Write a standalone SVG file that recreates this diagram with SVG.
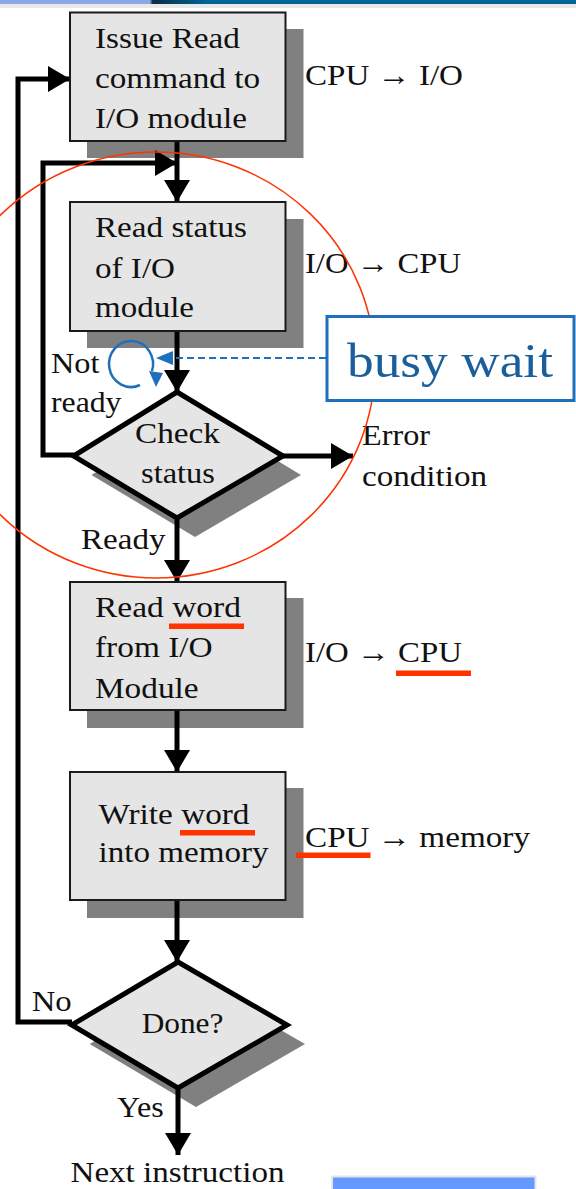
<svg xmlns="http://www.w3.org/2000/svg" width="576" height="1189" viewBox="0 0 576 1189">
  <defs>
    <linearGradient id="topband" x1="0" y1="0" x2="1" y2="0">
      <stop offset="0" stop-color="#8aa8e6"/>
      <stop offset="0.26" stop-color="#8aa8e6"/>
      <stop offset="0.265" stop-color="#0b2c44"/>
      <stop offset="0.36" stop-color="#006699"/>
      <stop offset="1" stop-color="#006699"/>
    </linearGradient>
    <marker id="ah" markerUnits="userSpaceOnUse" markerWidth="24" markerHeight="26" refX="22" refY="13" orient="auto">
      <path d="M0,0 L22,13 L0,26 z" fill="#000"/>
    </marker>
    <style>
      .box { fill: #e5e5e5; stroke: #1a1a1a; stroke-width: 2; }
      .dia { fill: #e5e5e5; stroke: #000; stroke-width: 5; stroke-linejoin: miter; }
      .shadow { fill: #808080; }
      .t { font-family: "Liberation Serif", "Times New Roman", serif; font-size: 30px; fill: #111; }
      .conn { fill: none; stroke: #000; stroke-width: 5; }
      .ul { fill: #ff3300; }
      .blue { fill: none; stroke: #1e6fbc; }
    </style>
  </defs>

  <!-- top band -->
  <rect x="0" y="0" width="576" height="4" fill="url(#topband)"/>
  <rect x="0" y="4" width="576" height="4" fill="#e8e8e8"/>

  <!-- shadows -->
  <g id="shadows">
    <rect class="shadow" x="87" y="29" width="216.5" height="129"/>
    <rect class="shadow" x="87" y="219" width="216.5" height="129"/>
    <polygon class="shadow" points="195,411 301,475 195,537 91.5,475"/>
    <rect class="shadow" x="87" y="598" width="216.5" height="130"/>
    <rect class="shadow" x="87" y="788" width="216.5" height="130"/>
    <polygon class="shadow" points="196,981 305,1044 196,1107 89.7,1044"/>
  </g>

  <!-- connectors -->
  <g id="connectors">
    <line class="conn" x1="177" y1="141" x2="177" y2="202" marker-end="url(#ah)"/>
    <line class="conn" x1="177" y1="331" x2="177" y2="392" marker-end="url(#ah)"/>
    <polyline class="conn" points="74,455 43,455 43,163 177,163" marker-end="url(#ah)"/>
    <line class="conn" x1="283" y1="456" x2="353" y2="456" marker-end="url(#ah)"/>
    <line class="conn" x1="177" y1="518" x2="177" y2="582" marker-end="url(#ah)"/>
    <line class="conn" x1="177" y1="710" x2="177" y2="772" marker-end="url(#ah)"/>
    <line class="conn" x1="177" y1="900" x2="177" y2="962" marker-end="url(#ah)"/>
    <polyline class="conn" points="72,1022 18,1022 18,79 70,79" marker-end="url(#ah)"/>
    <line class="conn" x1="178" y1="1088" x2="178" y2="1155" marker-end="url(#ah)"/>
  </g>

  <!-- nodes -->
  <g id="n-issue">
    <rect class="box" x="70" y="12.5" width="215.5" height="128.5"/>
    <text class="t" x="95" y="48" textLength="145" lengthAdjust="spacingAndGlyphs">Issue Read</text>
    <text class="t" x="95" y="88" textLength="165" lengthAdjust="spacingAndGlyphs">command to</text>
    <text class="t" x="95" y="128" textLength="152" lengthAdjust="spacingAndGlyphs">I/O module</text>
  </g>
  <g id="l-issue">
    <text class="t" x="305" y="85" textLength="158" lengthAdjust="spacingAndGlyphs">CPU → I/O</text>
  </g>

  <g id="n-readstatus">
    <rect class="box" x="70" y="202" width="215.5" height="129"/>
    <text class="t" x="95" y="237" textLength="152" lengthAdjust="spacingAndGlyphs">Read status</text>
    <text class="t" x="95" y="277.5" textLength="80" lengthAdjust="spacingAndGlyphs">of I/O</text>
    <text class="t" x="95" y="317" textLength="99" lengthAdjust="spacingAndGlyphs">module</text>
  </g>
  <g id="l-readstatus">
    <text class="t" x="305" y="273" textLength="156" lengthAdjust="spacingAndGlyphs">I/O → CPU</text>
  </g>

  <g id="n-check">
    <polygon class="dia" points="177,392 283,456 177,518 73.5,456"/>
    <text class="t" x="135" y="443" textLength="85" lengthAdjust="spacingAndGlyphs">Check</text>
    <text class="t" x="141" y="483" textLength="74" lengthAdjust="spacingAndGlyphs">status</text>
  </g>
  <g id="l-check">
    <text class="t" x="51" y="373" textLength="48.5" lengthAdjust="spacingAndGlyphs">Not</text>
    <text class="t" x="51" y="412" textLength="70.5" lengthAdjust="spacingAndGlyphs">ready</text>
    <text class="t" x="362" y="445" textLength="68" lengthAdjust="spacingAndGlyphs">Error</text>
    <text class="t" x="362" y="486" textLength="125" lengthAdjust="spacingAndGlyphs">condition</text>
    <text class="t" x="81" y="549" textLength="84.5" lengthAdjust="spacingAndGlyphs">Ready</text>
  </g>

  <g id="n-readword">
    <rect class="box" x="70" y="582" width="215.5" height="128"/>
    <text class="t" x="95" y="617" textLength="146" lengthAdjust="spacingAndGlyphs">Read word</text>
    <text class="t" x="95" y="657" textLength="117.6" lengthAdjust="spacingAndGlyphs">from I/O</text>
    <text class="t" x="95" y="697.5" textLength="103.6" lengthAdjust="spacingAndGlyphs">Module</text>
    <rect class="ul" x="169" y="623.5" width="75" height="5.5"/>
  </g>
  <g id="l-readword">
    <text class="t" x="305" y="662" textLength="157" lengthAdjust="spacingAndGlyphs">I/O → CPU</text>
    <rect class="ul" x="396" y="670.5" width="75" height="5.5"/>
  </g>

  <g id="n-writeword">
    <rect class="box" x="70" y="772" width="215.5" height="128"/>
    <text class="t" x="98.5" y="823.5" textLength="151" lengthAdjust="spacingAndGlyphs">Write word</text>
    <text class="t" x="98.5" y="862" textLength="170" lengthAdjust="spacingAndGlyphs">into memory</text>
    <rect class="ul" x="180" y="830" width="75" height="5.5"/>
  </g>
  <g id="l-writeword">
    <text class="t" x="305" y="847" textLength="225" lengthAdjust="spacingAndGlyphs">CPU → memory</text>
    <rect class="ul" x="296" y="852.5" width="74.5" height="5.5"/>
  </g>

  <g id="n-done">
    <polygon class="dia" points="178,962 287,1025 178,1088 71.7,1025"/>
    <text class="t" x="141.7" y="1033" textLength="81.7" lengthAdjust="spacingAndGlyphs">Done?</text>
  </g>
  <g id="l-done">
    <text class="t" x="31.7" y="1011" textLength="40" lengthAdjust="spacingAndGlyphs">No</text>
    <text class="t" x="117" y="1117" textLength="46.7" lengthAdjust="spacingAndGlyphs">Yes</text>
  </g>

  <g id="n-next">
    <text class="t" x="70.5" y="1182" textLength="214" lengthAdjust="spacingAndGlyphs">Next instruction</text>
  </g>

  <!-- annotation: red circle -->
  <g id="highlight">
    <ellipse cx="156" cy="365" rx="219" ry="213" fill="none" stroke="#ff3300" stroke-width="1.5"/>
  </g>

  <!-- annotation: busy wait -->
  <g id="busywait">
    <rect x="327" y="316.5" width="247" height="84" fill="#fff" stroke="#1e6fbc" stroke-width="3"/>
    <text x="347" y="377" font-family="Liberation Serif, Times New Roman, serif" font-size="48" fill="#1a5f9c" textLength="206" lengthAdjust="spacingAndGlyphs">busy wait</text>
    <line class="blue" x1="326" y1="358" x2="172" y2="358" stroke-width="2" stroke-dasharray="7,4"/>
    <polygon points="156,358 173,351 173,365" fill="#1e6fbc"/>
    <path class="blue" d="M140,385 A22,23 0 1 1 152,371" stroke-width="2.5"/>
    <polygon points="149,371 163,373 156,387" fill="#1e6fbc"/>
  </g>

  <!-- partial box at bottom right -->
  <g id="partial">
    <rect x="331" y="1175.5" width="205.5" height="14" fill="#e6e6e6"/>
    <rect x="333" y="1177.5" width="201.5" height="12" fill="#6699ff"/>
  </g>
</svg>
